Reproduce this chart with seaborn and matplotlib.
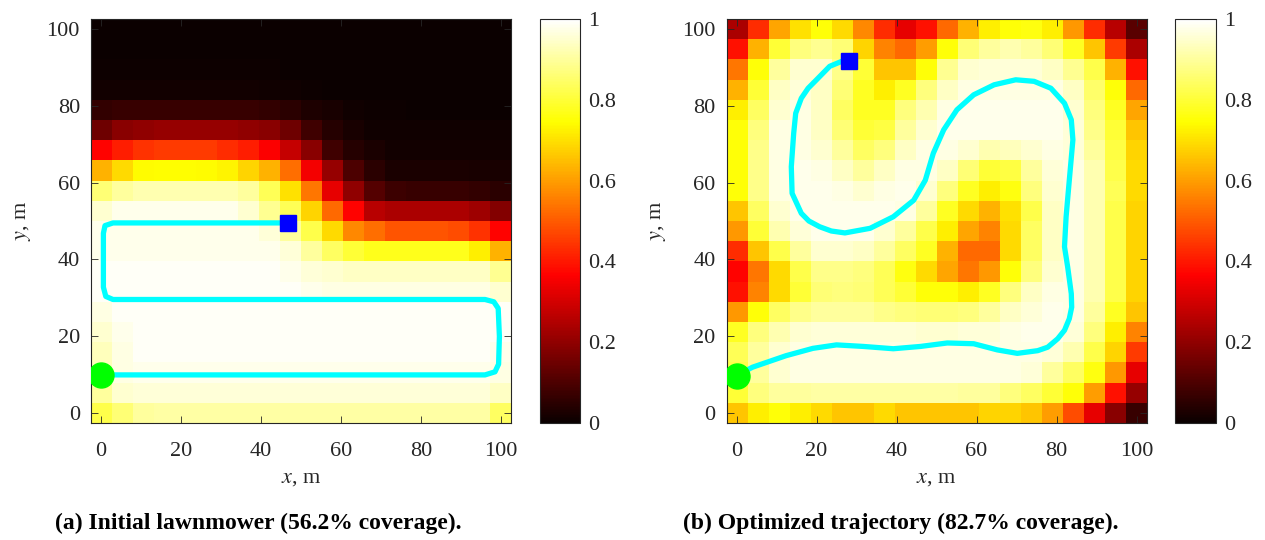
import numpy as np
import matplotlib
matplotlib.use("Agg")
import matplotlib.pyplot as plt
import seaborn as sns

# ---------------- data ----------------
# coverage maps, 20x20 cells, rows listed from top (y=100) to bottom (y=0)
cov_a = [
    [0.0,0.0,0.0,0.0,0.0,0.0,0.0,0.0,0.0,0.0,0.0,0.0,0.0,0.0,0.0,0.0,0.0,0.0,0.0,0.0],
    [0.0,0.0,0.0,0.0,0.0,0.0,0.0,0.0,0.0,0.0,0.0,0.0,0.0,0.0,0.0,0.0,0.0,0.0,0.0,0.0],
    [0.005,0.005,0.005,0.005,0.005,0.005,0.005,0.005,0.005,0.0,0.0,0.0,0.0,0.0,0.0,0.0,0.0,0.0,0.0,0.0],
    [0.012,0.012,0.012,0.012,0.012,0.012,0.012,0.012,0.01,0.008,0.004,0.0,0.0,0.0,0.0,0.0,0.0,0.0,0.0,0.0],
    [0.06,0.07,0.07,0.07,0.07,0.07,0.07,0.07,0.06,0.05,0.03,0.02,0.01,0.005,0.005,0.0,0.0,0.0,0.0,0.0],
    [0.15,0.19,0.20,0.21,0.21,0.21,0.21,0.20,0.19,0.15,0.08,0.04,0.02,0.01,0.01,0.01,0.01,0.01,0.01,0.01],
    [0.37,0.41,0.44,0.45,0.45,0.45,0.43,0.41,0.36,0.28,0.19,0.08,0.04,0.025,0.015,0.015,0.015,0.015,0.015,0.015],
    [0.63,0.69,0.74,0.745,0.745,0.74,0.73,0.68,0.63,0.53,0.35,0.21,0.10,0.05,0.025,0.025,0.025,0.025,0.02,0.02],
    [0.86,0.90,0.92,0.92,0.92,0.92,0.92,0.90,0.83,0.70,0.54,0.33,0.20,0.11,0.075,0.07,0.07,0.07,0.06,0.05],
    [0.95,0.98,0.98,0.98,0.98,0.98,0.98,0.95,0.89,0.83,0.68,0.52,0.37,0.26,0.24,0.24,0.24,0.24,0.22,0.18],
    [0.98,0.98,0.98,0.98,0.98,0.98,0.98,0.98,0.96,0.90,0.82,0.69,0.57,0.53,0.49,0.49,0.49,0.48,0.44,0.37],
    [0.98,0.98,0.98,0.98,0.98,0.98,0.98,0.98,0.98,0.96,0.90,0.84,0.80,0.77,0.77,0.77,0.77,0.77,0.72,0.63],
    [0.99,0.99,0.99,0.99,0.99,0.99,0.99,0.99,0.99,0.98,0.96,0.95,0.94,0.94,0.94,0.94,0.94,0.94,0.94,0.89],
    [0.99,0.99,0.99,0.99,0.99,0.99,0.99,0.99,0.99,0.99,0.98,0.97,0.97,0.97,0.97,0.97,0.97,0.97,0.97,0.95],
    [0.97,0.99,0.99,0.99,0.99,0.99,0.99,0.99,0.99,0.99,0.99,0.99,0.99,0.99,0.99,0.99,0.99,0.99,0.99,0.99],
    [0.95,0.98,0.99,0.99,0.99,0.99,0.99,0.99,0.99,0.99,0.99,0.99,0.99,0.99,0.99,0.99,0.99,0.99,0.99,0.99],
    [0.93,0.97,0.99,0.99,0.99,0.99,0.99,0.99,0.99,0.99,0.99,0.99,0.99,0.99,0.99,0.99,0.99,0.99,0.99,0.98],
    [0.93,0.97,0.98,0.98,0.98,0.98,0.98,0.98,0.98,0.98,0.98,0.98,0.98,0.98,0.98,0.98,0.98,0.98,0.98,0.97],
    [0.90,0.95,0.96,0.96,0.96,0.96,0.96,0.96,0.96,0.96,0.96,0.96,0.96,0.96,0.96,0.96,0.96,0.96,0.96,0.94],
    [0.82,0.86,0.90,0.91,0.91,0.91,0.91,0.91,0.91,0.91,0.91,0.91,0.91,0.91,0.91,0.91,0.91,0.91,0.91,0.84],
]

cov_b = [
    [0.24,0.43,0.61,0.70,0.75,0.69,0.57,0.43,0.33,0.39,0.52,0.63,0.72,0.75,0.76,0.72,0.59,0.43,0.26,0.12],
    [0.39,0.63,0.80,0.87,0.89,0.86,0.68,0.56,0.52,0.60,0.75,0.86,0.90,0.92,0.90,0.86,0.78,0.66,0.45,0.24],
    [0.54,0.75,0.90,0.95,0.95,0.88,0.80,0.66,0.66,0.75,0.89,0.95,0.96,0.96,0.96,0.94,0.89,0.82,0.63,0.39],
    [0.63,0.80,0.94,0.96,0.94,0.86,0.78,0.72,0.78,0.87,0.94,0.97,0.97,0.97,0.97,0.97,0.94,0.85,0.75,0.52],
    [0.72,0.84,0.95,0.97,0.94,0.84,0.78,0.78,0.87,0.92,0.97,0.98,0.98,0.98,0.98,0.98,0.95,0.87,0.78,0.61],
    [0.75,0.87,0.97,0.97,0.94,0.86,0.80,0.81,0.90,0.95,0.98,0.98,0.98,0.98,0.98,0.98,0.96,0.88,0.80,0.66],
    [0.75,0.88,0.97,0.97,0.95,0.90,0.84,0.87,0.94,0.97,0.97,0.95,0.92,0.93,0.95,0.97,0.96,0.90,0.81,0.68],
    [0.75,0.88,0.97,0.98,0.97,0.94,0.90,0.94,0.97,0.97,0.94,0.86,0.80,0.81,0.90,0.96,0.97,0.92,0.82,0.69],
    [0.75,0.88,0.97,0.98,0.98,0.97,0.95,0.97,0.98,0.95,0.87,0.78,0.72,0.76,0.87,0.95,0.97,0.92,0.83,0.69],
    [0.66,0.84,0.95,0.98,0.98,0.98,0.98,0.98,0.97,0.90,0.78,0.69,0.63,0.70,0.82,0.94,0.97,0.92,0.82,0.68],
    [0.59,0.80,0.92,0.96,0.98,0.98,0.98,0.95,0.90,0.82,0.72,0.61,0.56,0.69,0.84,0.94,0.97,0.92,0.82,0.68],
    [0.43,0.66,0.82,0.90,0.95,0.95,0.94,0.90,0.84,0.78,0.63,0.52,0.52,0.69,0.84,0.94,0.97,0.92,0.82,0.68],
    [0.37,0.54,0.69,0.82,0.88,0.88,0.87,0.83,0.76,0.69,0.61,0.54,0.59,0.75,0.87,0.95,0.97,0.92,0.82,0.68],
    [0.39,0.56,0.69,0.80,0.86,0.87,0.86,0.83,0.80,0.75,0.75,0.72,0.78,0.87,0.94,0.97,0.97,0.92,0.82,0.68],
    [0.59,0.75,0.84,0.88,0.90,0.90,0.90,0.88,0.87,0.86,0.86,0.87,0.90,0.94,0.96,0.98,0.97,0.90,0.78,0.66],
    [0.78,0.87,0.92,0.95,0.96,0.96,0.96,0.96,0.96,0.95,0.95,0.96,0.96,0.97,0.98,0.98,0.96,0.87,0.72,0.56],
    [0.83,0.90,0.95,0.97,0.97,0.97,0.97,0.97,0.97,0.97,0.97,0.97,0.97,0.97,0.97,0.96,0.92,0.82,0.68,0.45],
    [0.82,0.90,0.95,0.97,0.97,0.97,0.97,0.97,0.97,0.97,0.97,0.97,0.97,0.97,0.96,0.90,0.84,0.76,0.59,0.33],
    [0.80,0.87,0.90,0.90,0.91,0.91,0.91,0.91,0.91,0.91,0.91,0.90,0.90,0.87,0.84,0.80,0.75,0.60,0.39,0.21],
    [0.66,0.72,0.75,0.72,0.69,0.66,0.66,0.69,0.66,0.66,0.66,0.66,0.68,0.68,0.66,0.60,0.48,0.33,0.19,0.07],
]

# lawnmower trajectory (m)
traj_a_x = [0.0, 96.0, 98.5, 99.4, 99.6, 99.3, 98.2, 96.0, 3.0, 1.2, 0.6, 0.6, 1.0, 3.0, 46.7]
traj_a_y = [10.0, 10.0, 10.8, 12.8, 20.0, 27.3, 29.0, 29.6, 29.6, 30.4, 32.8, 46.8, 48.8, 49.5, 49.5]

# optimized trajectory (m)
traj_b_x = [0.0, 4.0, 12.4, 19.1, 25.0, 31.7, 39.2, 46.0, 52.7, 59.3, 65.2, 70.2, 75.3,
            77.8, 80.3, 82.0, 83.2, 83.8, 83.7, 82.8, 82.0, 82.4, 83.2, 84.1, 83.7,
            82.0, 78.6, 74.4, 69.8, 64.4, 59.3, 55.1, 51.8, 49.2, 47.2, 44.3, 39.2,
            33.4, 27.1, 23.7, 20.8, 18.1, 16.2, 13.9, 13.7, 14.3, 14.8, 16.2, 17.9,
            20.0, 23.3, 26.3, 28.0]
traj_b_y = [9.8, 12.0, 15.0, 16.9, 17.8, 17.4, 16.8, 17.4, 18.3, 18.1, 16.5, 15.6, 16.3,
            17.2, 19.4, 21.6, 24.6, 27.6, 31.1, 38.0, 43.3, 51.1, 60.6, 71.1, 76.3,
            80.6, 84.5, 86.3, 86.7, 85.4, 82.8, 78.9, 73.7, 67.6, 60.6, 55.4, 51.1,
            48.1, 46.9, 47.4, 48.5, 50.0, 52.0, 57.2, 64.1, 72.8, 78.0, 81.9, 84.5,
            86.7, 90.2, 91.5, 91.7]

axis_ticks = [0, 20, 40, 60, 80, 100]
cbar_ticks = [0, 0.2, 0.4, 0.6, 0.8, 1.0]
cbar_labels = ["0", "0.2", "0.4", "0.6", "0.8", "1"]
captions = ["(a) Initial lawnmower (56.2% coverage).",
            "(b) Optimized trajectory (82.7% coverage)."]

# ---------------- style ----------------
sns.set_theme(style="white")
plt.rcParams["font.family"] = ["Liberation Serif", "DejaVu Serif"]
plt.rcParams["mathtext.fontset"] = "stix"
TXT = "#262626"

fig = plt.figure(figsize=(12.65, 5.4), dpi=100)

W, H = 1265.0, 540.0
def rect(x0, y_top, w, h):
    return [x0 / W, (H - y_top - h) / H, w / W, h / H]

panels = [
    dict(cov=cov_a, tx=traj_a_x, ty=traj_a_y, ax=rect(91, 19, 420, 404),
         cax=rect(539.5, 19, 40.5, 404), cap=captions[0], capx=258),
    dict(cov=cov_b, tx=traj_b_x, ty=traj_b_y, ax=rect(726.5, 19, 420, 404),
         cax=rect(1174.5, 19, 41, 404), cap=captions[1], capx=901),
]

for p in panels:
    axh = fig.add_axes(p["ax"])
    cax = fig.add_axes(p["cax"])
    sns.heatmap(np.array(p["cov"]), ax=axh, cmap="hot", vmin=0, vmax=1,
                cbar_ax=cax, xticklabels=False, yticklabels=False)
    axh.set_axis_off()

    cbar = axh.collections[0].colorbar
    cbar.set_ticks(cbar_ticks)
    cbar.set_ticklabels(cbar_labels)
    cbar.outline.set_edgecolor(TXT)
    cbar.outline.set_linewidth(0.8)
    cax.tick_params(direction="in", length=4, width=0.6, colors=TXT,
                    labelsize=16, right=True, left=False, pad=6)

    ax = fig.add_axes(p["ax"])
    ax.set_facecolor("none")
    sns.lineplot(x=p["tx"], y=p["ty"], ax=ax, sort=False, estimator=None,
                 color="#00ffff", linewidth=3.8, zorder=3)
    for ln in ax.lines:
        ln.set_solid_joinstyle("round")
        ln.set_solid_capstyle("round")
    ax.plot(p["tx"][0], p["ty"][0], "o", color="#00ff00", markersize=18, zorder=4)
    ax.plot(p["tx"][-1], p["ty"][-1], "s", color="#0000ff", markersize=12, zorder=4)

    ax.set_xlim(-2.5, 102.5)
    ax.set_ylim(-2.5, 102.5)
    ax.set_xticks(axis_ticks)
    ax.set_yticks(axis_ticks)
    ax.tick_params(direction="in", length=5, width=0.6, colors=TXT, labelsize=16,
                   bottom=True, top=True, left=True, right=True, pad=8)
    ax.tick_params(axis="x", pad=13.5)
    for s in ax.spines.values():
        s.set_visible(True)
        s.set_color(TXT)
        s.set_linewidth(0.8)
    ax.set_xlabel("$x$, m", fontsize=16, color=TXT, labelpad=6)
    ax.set_ylabel("$y$, m", fontsize=16, color=TXT, labelpad=10)

    fig.text(p["capx"] / W, 1 - 523 / H, p["cap"], ha="center", va="center",
             fontsize=17, fontweight="bold", color="black")

fig.savefig("out.png", dpi=100)
